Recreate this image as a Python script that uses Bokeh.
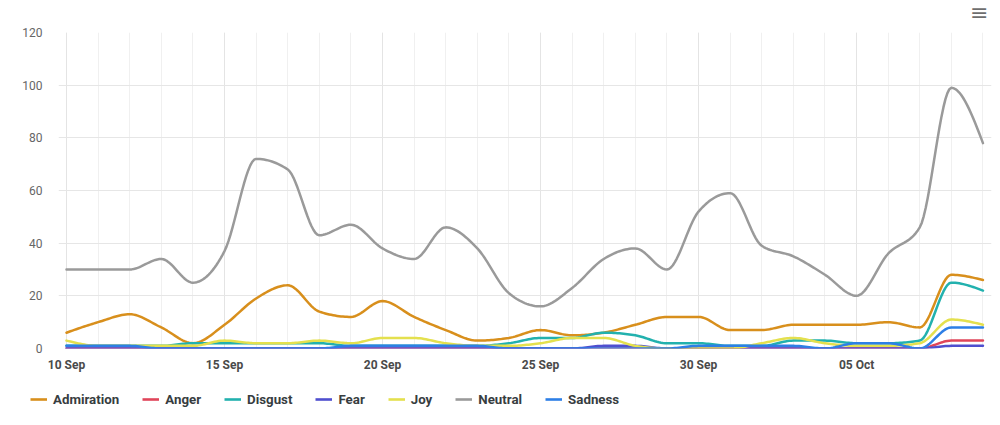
import numpy as np
import pandas as pd
from bokeh.plotting import figure
from bokeh.layouts import column, row
from bokeh.models import Range1d, FixedTicker, Legend, LegendItem, Label, ColumnDataSource
from bokeh.embed import file_html
from bokeh.resources import INLINE

# ---------------- data ----------------
dates = pd.date_range("2024-09-10", "2024-10-09", freq="D")
admiration = [6, 10, 13, 8, 2, 9, 19, 24, 14, 12, 18, 12, 7, 3, 4, 7, 5, 6, 9, 12, 12, 7, 7, 9, 9, 9, 10, 8, 28, 26]
anger      = [0, 0, 0, 0, 0, 0, 0, 0, 0, 0, 0, 0, 0, 0, 0, 0, 0, 0, 0, 0, 0, 0, 0, 0, 0, 0, 0, 0, 3, 3]
disgust    = [1, 1, 1, 1, 2, 2, 2, 2, 2, 1, 1, 1, 1, 1, 2, 4, 4, 6, 5, 2, 2, 1, 1, 3, 3, 2, 2, 3, 25, 22]
fear       = [0, 0, 0, 0, 0, 0, 0, 0, 0, 0, 0, 0, 0, 0, 0, 0, 0, 1, 1, 0, 0, 0, 0, 0, 0, 0, 0, 0, 1, 1]
joy        = [3, 1, 1, 1, 1, 3, 2, 2, 3, 2, 4, 4, 2, 1, 1, 2, 4, 4, 1, 0, 0, 0, 2, 4, 2, 1, 1, 2, 11, 9]
neutral    = [30, 30, 30, 34, 25, 37, 72, 68, 43, 47, 38, 34, 46, 38, 21, 16, 23, 34, 38, 30, 52, 59, 39, 35, 28, 20, 36, 46, 99, 78]
sadness    = [1, 1, 1, 0, 0, 0, 0, 0, 0, 1, 1, 1, 1, 1, 0, 0, 0, 0, 0, 0, 1, 1, 1, 1, 0, 2, 2, 0, 8, 8]

series_names = ["Admiration", "Anger", "Disgust", "Fear", "Joy", "Neutral", "Sadness"]
series_values = [admiration, anger, disgust, fear, joy, neutral, sadness]
series_colors = ["#D88F1C", "#E0455A", "#22B1AE", "#4F4FCF", "#E4E04E", "#9A9A9A", "#2D7FE6"]

tick_dates = ["2024-09-10", "2024-09-15", "2024-09-20", "2024-09-25", "2024-09-30", "2024-10-05"]
tick_labels = ["10 Sep", "15 Sep", "20 Sep", "25 Sep", "30 Sep", "05 Oct"]
y_ticks = [0, 20, 40, 60, 80, 100, 120]


# -------------- smoothing (monotone cubic, like d3 curveMonotoneX) --------------
def monotone(x, y, per=16):
    x = np.asarray(x, float)
    y = np.asarray(y, float)
    n = len(x)
    h = np.diff(x)
    s = np.diff(y) / h
    m = np.zeros(n)
    for i in range(1, n - 1):
        s0, s1 = s[i - 1], s[i]
        p = (s0 * h[i] + s1 * h[i - 1]) / (h[i - 1] + h[i])
        m[i] = (np.sign(s0) + np.sign(s1)) * min(abs(s0), abs(s1), 0.5 * abs(p))
    m[0] = (3 * s[0] - m[1]) / 2
    m[-1] = (3 * s[-1] - m[-2]) / 2
    xs, ys = [], []
    for i in range(n - 1):
        t = np.linspace(0, 1, per, endpoint=False)
        h00 = 2 * t**3 - 3 * t**2 + 1
        h10 = t**3 - 2 * t**2 + t
        h01 = -2 * t**3 + 3 * t**2
        h11 = t**3 - t**2
        xs.append(x[i] + t * h[i])
        ys.append(h00 * y[i] + h10 * h[i] * m[i] + h01 * y[i + 1] + h11 * h[i] * m[i + 1])
    xs.append([x[-1]])
    ys.append([y[-1]])
    return np.concatenate(xs), np.concatenate(ys)


def bare(width, height):
    f = figure(width=width, height=height, output_backend="svg", toolbar_location=None,
               x_axis_location=None, y_axis_location=None,
               min_border_left=0, min_border_right=0, min_border_top=0, min_border_bottom=0,
               x_range=Range1d(0, width), y_range=Range1d(0, height))
    f.outline_line_color = None
    f.xgrid.visible = False
    f.ygrid.visible = False
    return f


DAY = 86400000.0
t0 = dates[0].value / 1e6
xnum = [(d.value / 1e6 - t0) / DAY for d in dates]

# ---------------- header (menu icon) ----------------
head = bare(992, 24)
head.add_layout(Label(x=979, y=25, text="\u2261", text_font="DejaVu Sans", text_font_size="22px",
                      text_color="#6e6e6e", text_align="center", text_baseline="top"))

# ---------------- main chart ----------------
p = figure(
    width=992, height=356,
    x_axis_type="datetime",
    output_backend="svg", toolbar_location=None,
    min_border_left=58, min_border_right=1, min_border_top=8, min_border_bottom=32,
    x_range=Range1d(t0 - 0.253 * DAY, t0 + 29.27 * DAY),
    y_range=Range1d(0, 120),
)
p.outline_line_color = None
p.background_fill_color = "white"
p.border_fill_color = "white"

for name, vals, col in zip(series_names, series_values, series_colors):
    xs, ys = monotone(xnum, vals)
    src = ColumnDataSource(dict(x=t0 + xs * DAY, y=ys))
    p.line("x", "y", source=src, line_color=col, line_width=2.5, line_join="round", line_cap="round")

major = [pd.Timestamp(d).value / 1e6 for d in tick_dates]
minor = [d.value / 1e6 for d in dates]
p.xaxis.ticker = FixedTicker(ticks=major, minor_ticks=minor)
p.xaxis.major_label_overrides = {m: lab for m, lab in zip(major, tick_labels)}
p.yaxis.ticker = FixedTicker(ticks=y_ticks)

for ax in (p.xaxis, p.yaxis):
    ax.axis_line_color = None
    ax.major_tick_line_color = None
    ax.minor_tick_line_color = None
    ax.major_tick_out = 0
    ax.minor_tick_out = 0
    ax.major_label_text_font = "Roboto"
    ax.major_label_text_font_size = "12px"

p.xaxis.major_label_text_font_style = "bold"
p.xaxis.major_label_text_color = "#4a4a4a"
p.xaxis.major_label_standoff = 9
p.yaxis.major_label_text_color = "#666666"
p.yaxis.major_label_standoff = 16

p.xgrid.grid_line_color = "#e4e4e4"
p.xgrid.grid_line_width = 1
p.xgrid.minor_grid_line_color = "#f0f0f0"
p.ygrid.grid_line_color = "#e6e6e6"
p.ygrid.grid_line_width = 1

# ---------------- legend strip ----------------
leg = bare(992, 37)
items = []
for name, col in zip(series_names, series_colors):
    r = leg.line([np.nan], [np.nan], line_color=col, line_width=2.6)
    items.append(LegendItem(label=name, renderers=[r]))
legend = Legend(
    items=items, orientation="horizontal", location=(30, 8),
    glyph_width=17, glyph_height=20, label_height=20, label_standoff=6, spacing=23,
    padding=0, margin=0, border_line_color=None, background_fill_alpha=0,
    label_text_font="Roboto", label_text_font_style="bold", label_text_font_size="13.3px",
    label_text_color="#373d3f",
)
leg.add_layout(legend)

layout = column(head, p, row(leg), spacing=0)
open("out.html", "w").write(file_html(layout, INLINE))
